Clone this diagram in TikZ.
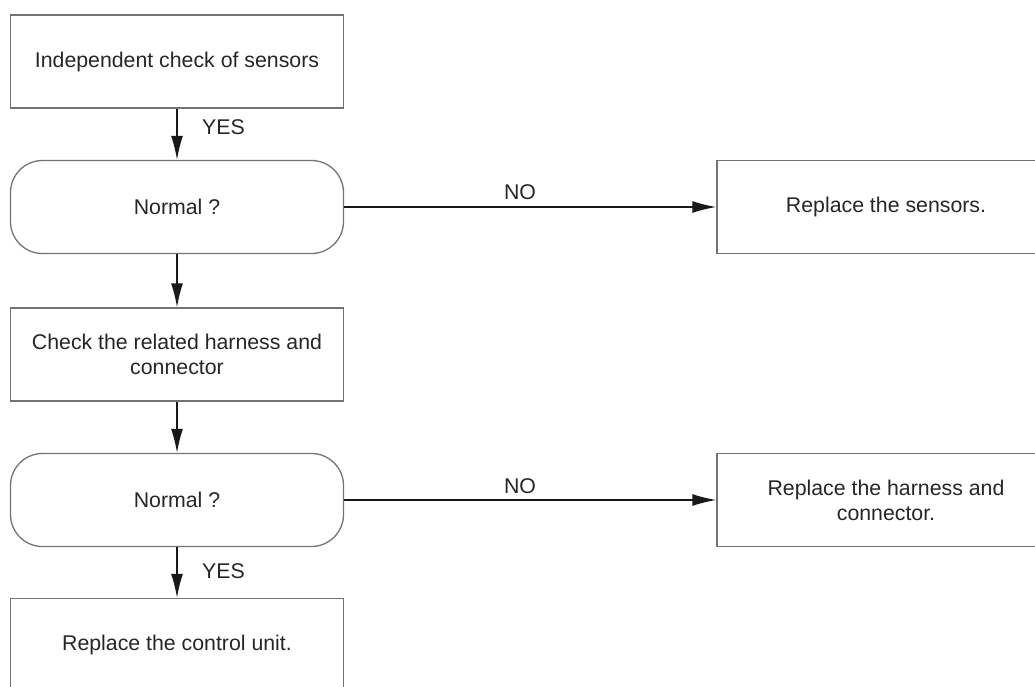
\documentclass[tikz,border=0pt]{standalone}
\usepackage{fontspec}
\setmainfont{Liberation Sans}
\usetikzlibrary{arrows.meta}
\begin{document}
\begin{tikzpicture}[x=1pt,y=-1pt,
  every node/.style={font=\fontsize{21.3}{25}\selectfont, text=black!85},
  box/.style={draw=black!55, line width=1.3pt, minimum width=333pt, minimum height=93pt, align=center, inner sep=0pt},
  dec/.style={box, rounded corners=32pt},
  rbox/.style={box, minimum width=338pt},
  arr/.style={draw=black!90, line width=1.4pt, -{Latex[length=24pt,width=12pt]}},
  lab/.style={inner sep=0pt}]
\useasboundingbox (0,0) rectangle (1035,686);
\clip (0,0) rectangle (1035,686);
\node[box] (b1) at (177,61.5) {Independent check of sensors};
\node[dec] (d1) at (177,207) {Normal ?};
\node[box] (b2) at (177,354.5) {Check the related harness and\\connector};
\node[dec] (d2) at (177,500) {Normal ?};
\node[box] (b3) at (177,645) {Replace the control unit.};
\node[rbox] (r1) at (886,207) {Replace the sensors.};
\node[rbox] (r2) at (886,500) {Replace the harness and\\connector.};
\draw[arr] (b1.south) -- (d1.north);
\draw[arr] (d1.south) -- (b2.north);
\draw[arr] (b2.south) -- (d2.north);
\draw[arr] (d2.south) -- (b3.north);
\draw[arr] (d1.east) -- (r1.west);
\draw[arr] (d2.east) -- (r2.west);
\node[lab, anchor=west] (y1) at (202,127) {YES};
\node[lab, anchor=west] (y2) at (202,571) {YES};
\node[lab] (n1) at (520,192) {NO};
\node[lab] (n2) at (520,486) {NO};
\end{tikzpicture}
\end{document}
